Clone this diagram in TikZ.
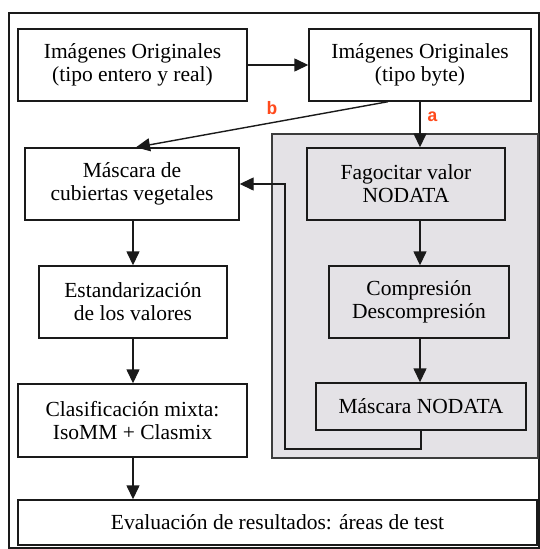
\documentclass[tikz,border=0pt]{standalone}
\usepackage{fontspec}
\setmainfont{Liberation Serif}
\newfontfamily\boxfont{Liberation Serif}
\newfontfamily\lblfont{Liberation Mono}
\usetikzlibrary{arrows.meta}
\definecolor{panel}{HTML}{E4E2E6}
\definecolor{tag}{HTML}{FF4A1C}
\definecolor{ink}{HTML}{1A1A1A}

\begin{document}
\begin{tikzpicture}[x=1pt, y=-1pt, >={Triangle[length=14pt,width=13pt]},
  every node/.style={font=\boxfont\fontsize{21.5}{23}\selectfont},
  box/.style={draw=ink, line width=1.4pt, align=center, inner sep=0pt},
  flow/.style={->, draw=ink, line width=1.4pt},
  tagtxt/.style={text=tag, font=\lblfont\bfseries\fontsize{18}{18}\selectfont}]
  \useasboundingbox (0,0) rectangle (540,549);
  \draw[ink, line width=2pt, fill=white] (9,13) rectangle (539,548);
  \draw[ink!85, line width=1.8pt, fill=panel] (272,134) rectangle (538,458);

  \node[box, minimum width=229pt, minimum height=72pt] (orig1) at (132.5,65) {Imágenes Originales\\(tipo entero y real)};
  \node[box, minimum width=222pt, minimum height=72pt] (orig2) at (420,65) {Imágenes Originales\\(tipo byte)};
  \node[box, minimum width=214pt, minimum height=72pt] (mascara) at (132,184) {Máscara de\\cubiertas vegetales};
  \node[box, minimum width=198pt, minimum height=72pt] (fago) at (406,184) {Fagocitar valor\\NODATA};
  \node[box, minimum width=188pt, minimum height=72pt] (estand) at (133,302) {Estandarización\\de los valores};
  \node[box, minimum width=180pt, minimum height=72pt] (compr) at (419,302) {Compresión\\Descompresión};
  \node[box, minimum width=229pt, minimum height=73pt] (clasif) at (132.5,420.5) {Clasificación mixta:\\IsoMM + Clasmix};
  \node[box, minimum width=210pt, minimum height=47pt] (nodata) at (421,406.5) {Máscara NODATA};
  \node[box, minimum width=519pt, minimum height=45pt] (evalu) at (277.5,522.5) {Evaluación de resultados: áreas de test};
  \coordinate (ret) at (285,449);

  \draw[flow] (orig1) -- (orig2);
  \draw[flow] (orig2.south) -- (orig2.south |- fago.north) node[tagtxt, pos=0.32, right=3pt] {a};
  \draw[flow] ([xshift=-32pt]orig2.south) -- ([xshift=4pt]mascara.north) node[tagtxt, pos=0.46, above=4pt] {b};
  \draw[flow] (mascara.south -| estand) -- (estand.north);
  \draw[flow] (estand.south) -- (estand.south |- clasif.north);
  \draw[flow] (estand.south |- clasif.south) -- (estand.south |- evalu.north);
  \draw[flow] (orig2.south |- fago.south) -- (orig2.south |- compr.north);
  \draw[flow] (orig2.south |- compr.south) -- (orig2.south |- nodata.north);
  \draw[flow] (nodata.south) |- (ret) |- (mascara.east);
\end{tikzpicture}
\end{document}
